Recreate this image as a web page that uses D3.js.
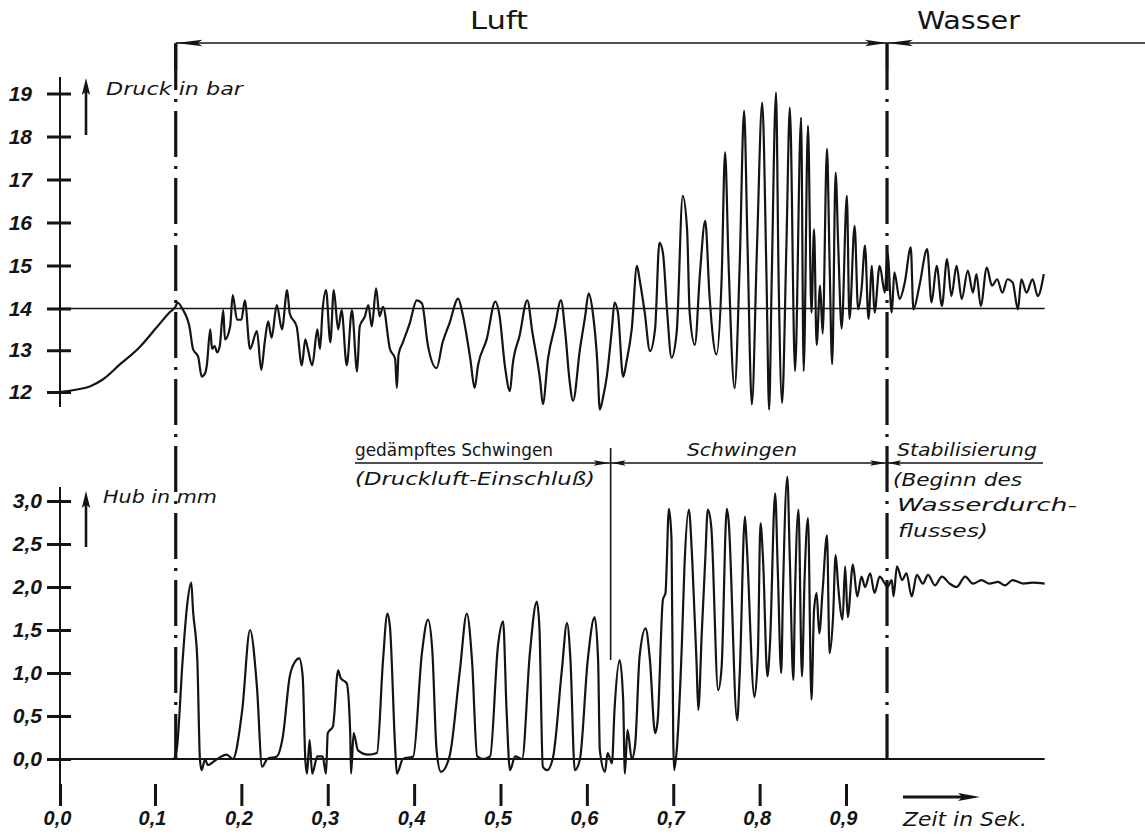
<!DOCTYPE html>
<html>
<head>
<meta charset="utf-8">
<script src="https://cdn.jsdelivr.net/npm/d3@7"></script>
<style>
  body { margin: 0; background: #fff; }
</style>
</head>
<body>
<svg id="chart" width="1145" height="835"></svg>
<script>
// Achsen
var zeitTicks = [0.0, 0.1, 0.2, 0.3, 0.4, 0.5, 0.6, 0.7, 0.8, 0.9];
var druckTicks = [12, 13, 14, 15, 16, 17, 18, 19];
var hubTicks = [0.0, 0.5, 1.0, 1.5, 2.0, 2.5, 3.0];

// Druckverlauf (Zeit in s, Druck in bar)
var druckZeit = [0.000,0.018,0.032,0.045,0.063,0.084,0.102,0.117,0.124,0.126,0.132,0.140,0.144,0.150,0.154,0.158,0.160,0.164,0.166,0.169,
  0.172,0.175,0.179,0.181,0.187,0.190,0.195,0.200,0.204,0.210,0.218,0.223,0.227,0.231,0.235,0.241,0.247,0.253,0.256,0.264,
  0.270,0.274,0.277,0.282,0.288,0.291,0.294,0.298,0.303,0.307,0.312,0.316,0.322,0.328,0.334,0.337,0.343,0.347,0.351,0.356,
  0.360,0.364,0.372,0.378,0.380,0.382,0.387,0.395,0.403,0.409,0.416,0.426,0.433,0.441,0.451,0.456,0.465,0.470,0.474,0.484,
  0.494,0.499,0.505,0.511,0.514,0.522,0.531,0.537,0.546,0.549,0.555,0.563,0.570,0.575,0.580,0.584,0.592,0.598,0.602,0.607,
  0.612,0.615,0.619,0.623,0.629,0.632,0.636,0.642,0.646,0.652,0.658,0.661,0.667,0.673,0.679,0.684,0.688,0.693,0.698,0.704,
  0.711,0.716,0.719,0.725,0.731,0.737,0.742,0.750,0.756,0.760,0.764,0.771,0.777,0.782,0.786,0.791,0.797,0.803,0.808,0.811,
  0.814,0.819,0.822,0.826,0.831,0.835,0.841,0.848,0.851,0.856,0.860,0.863,0.866,0.870,0.873,0.878,0.881,0.884,0.888,0.891,
  0.895,0.901,0.904,0.910,0.914,0.918,0.922,0.926,0.930,0.933,0.939,0.945,0.948,0.953,0.956,0.962,0.968,0.975,0.978,0.985,
  0.994,0.999,1.005,1.011,1.017,1.022,1.028,1.034,1.041,1.047,1.051,1.056,1.063,1.069,1.075,1.081,1.087,1.093,1.099,1.103,
  1.109,1.116,1.122,1.129];
var druckWert = [12.00,12.06,12.14,12.30,12.66,13.08,13.55,13.91,14.05,14.14,13.98,13.55,13.03,12.84,12.37,12.45,12.64,13.50,13.03,13.10,
  12.95,13.10,13.96,13.26,13.57,14.31,13.73,13.73,14.19,13.03,13.46,12.53,13.19,13.69,13.30,14.08,13.50,14.43,13.88,13.57,
  12.64,13.26,13.03,12.64,13.50,13.03,13.96,14.43,13.19,14.43,13.50,13.96,12.64,13.96,12.49,13.57,13.81,14.08,13.57,14.47,
  13.81,14.04,13.03,12.80,12.10,12.90,13.19,13.65,14.19,14.12,13.11,12.57,13.19,13.65,14.23,13.88,12.80,12.10,12.64,13.26,
  14.16,13.81,12.64,12.02,12.64,13.34,14.19,13.42,12.26,11.71,12.80,13.57,14.19,13.42,12.26,11.79,13.03,13.81,14.35,13.88,
  12.74,11.58,11.90,12.36,13.52,14.14,13.90,12.36,12.74,13.52,14.99,14.68,13.90,12.98,13.52,15.53,15.30,13.90,12.82,13.44,
  16.62,15.84,13.90,13.13,14.84,16.04,14.29,12.90,14.68,17.63,15.07,12.09,15.07,18.60,15.46,11.70,15.46,18.79,14.68,11.58,
  14.68,19.02,14.68,11.74,15.46,18.67,12.50,18.44,12.50,18.25,13.90,15.84,13.13,14.53,13.40,17.71,15.07,12.67,17.16,15.46,
  13.52,16.62,13.75,15.92,13.98,14.45,15.46,13.75,14.99,13.90,14.99,14.37,15.30,13.90,14.84,14.22,14.60,15.42,13.98,14.53,
  15.38,14.14,14.99,14.06,15.15,14.29,14.99,14.22,14.88,14.37,14.80,14.06,14.95,14.53,14.68,14.37,14.68,14.60,13.98,14.68,
  14.37,14.68,14.29,14.80];

// Hubverlauf (Zeit in s, Hub in mm)
var hubZeit = [0.000,0.121,0.125,0.132,0.137,0.142,0.144,0.149,0.152,0.154,0.158,0.161,0.172,0.183,0.190,0.201,0.210,0.218,0.224,0.230,
  0.241,0.248,0.256,0.262,0.267,0.271,0.274,0.276,0.279,0.282,0.288,0.294,0.298,0.300,0.306,0.312,0.315,0.322,0.326,0.327,
  0.330,0.335,0.347,0.357,0.364,0.369,0.372,0.378,0.380,0.387,0.399,0.409,0.416,0.421,0.426,0.431,0.441,0.453,0.461,0.467,
  0.473,0.480,0.488,0.497,0.503,0.507,0.511,0.517,0.525,0.534,0.542,0.545,0.549,0.554,0.561,0.571,0.577,0.581,0.586,0.592,
  0.601,0.609,0.613,0.615,0.621,0.624,0.629,0.632,0.638,0.642,0.644,0.647,0.652,0.656,0.661,0.668,0.673,0.679,0.682,0.688,
  0.691,0.695,0.698,0.700,0.701,0.704,0.710,0.713,0.718,0.722,0.727,0.729,0.733,0.737,0.740,0.744,0.752,0.756,0.762,0.764,
  0.774,0.777,0.783,0.785,0.794,0.798,0.801,0.804,0.809,0.812,0.818,0.821,0.825,0.827,0.832,0.835,0.839,0.841,0.845,0.849,
  0.852,0.856,0.860,0.863,0.866,0.869,0.873,0.878,0.881,0.885,0.888,0.891,0.896,0.899,0.902,0.908,0.913,0.918,0.922,0.928,
  0.933,0.939,0.945,0.948,0.953,0.955,0.959,0.965,0.970,0.976,0.982,0.989,0.995,1.003,1.011,1.020,1.028,1.038,1.047,1.057,
  1.066,1.076,1.084,1.093,1.105,1.116,1.130];
var hubWert = [0.00,0.00,0.10,1.15,1.77,2.05,1.73,1.15,0.00,-0.13,0.00,-0.07,0.00,0.05,0.00,0.57,1.50,0.84,-0.09,0.00,
  0.03,0.26,0.96,1.13,1.17,0.96,0.00,-0.17,0.22,-0.17,0.03,0.03,-0.17,0.30,0.38,1.03,0.94,0.88,0.30,-0.17,
  0.30,0.10,0.05,0.07,1.15,1.69,1.54,0.14,-0.17,0.00,0.03,1.23,1.62,1.27,0.10,-0.15,0.03,1.03,1.69,1.15,
  0.03,0.00,0.03,1.31,1.60,0.57,-0.13,0.03,0.00,1.23,1.83,1.54,-0.09,-0.13,0.03,1.03,1.58,1.15,-0.13,0.00,
  1.15,1.65,1.15,0.10,-0.15,0.07,-0.05,0.57,1.15,0.69,-0.17,0.34,0.00,0.18,1.19,1.52,1.15,0.30,0.45,1.85,
  1.93,2.91,2.55,0.22,-0.13,0.10,1.34,2.24,2.90,2.31,1.11,0.57,1.46,2.31,2.90,2.70,0.80,1.07,2.91,2.78,
  0.45,1.00,2.82,2.51,0.72,1.23,2.74,2.31,0.96,1.34,3.09,2.20,1.00,1.93,3.28,2.31,0.92,1.93,2.90,0.96,
  2.08,2.80,0.69,1.73,1.93,1.46,1.97,2.60,1.23,1.65,2.37,2.00,1.62,2.24,1.65,2.26,1.89,2.12,2.00,2.16,
  1.93,2.12,2.04,2.00,2.08,1.89,2.24,2.08,2.16,1.89,2.14,2.04,2.14,2.02,2.12,2.04,2.00,2.12,2.04,2.08,
  2.04,2.06,2.02,2.08,2.04,2.05,2.04];

var zeitEnde = 1.13;

var svg = d3.select("#chart");
var ink = "#141414";
var schrift = "'DejaVu Sans', sans-serif";
var zahlen = "'Liberation Sans', Arial, sans-serif";

// Skalen (Handzeichnung: erster Abschnitt 0,0-0,1 etwas breiter)
var x = d3.scaleLinear().domain([0, 0.1, 0.9]).range([60, 155, 846]);
var yDruck = d3.scaleLinear().domain([12, 14, 19]).range([392, 308.5, 93.5]);
var yHub = d3.scaleLinear().domain([0, 3]).range([759, 501]);

function komma(d) { return d.toFixed(1).replace(".", ","); }

function spitze(px, py, dx, dy, len, w) {
  // gefuellte Pfeilspitze, Spitze bei (px,py), Richtung (dx,dy)
  var bx = px - dx * len, by = py - dy * len;
  var nx = -dy * w, ny = dx * w;
  return "M" + px + "," + py + "L" + (bx + nx) + "," + (by + ny) +
    "L" + (px - dx * len * 0.8) + "," + (py - dy * len * 0.8) +
    "L" + (bx - nx) + "," + (by - ny) + "Z";
}

// Bezugslinie 14 bar und Nulllinie Hub
svg.append("line").attr("x1", x(0)).attr("x2", x(zeitEnde))
  .attr("y1", yDruck(14)).attr("y2", yDruck(14))
  .attr("stroke", ink).attr("stroke-width", 1.6);
svg.append("line").attr("x1", x(0)).attr("x2", x(zeitEnde))
  .attr("y1", yHub(0)).attr("y2", yHub(0))
  .attr("stroke", ink).attr("stroke-width", 2);

// Y-Achsen
svg.append("line").attr("x1", 60).attr("x2", 60).attr("y1", 77).attr("y2", 407)
  .attr("stroke", ink).attr("stroke-width", 2);
svg.append("line").attr("x1", 60).attr("x2", 60).attr("y1", 487).attr("y2", 806)
  .attr("stroke", ink).attr("stroke-width", 2);

var gDruck = svg.append("g").attr("transform", "translate(71,0)")
  .call(d3.axisLeft(yDruck).tickValues(druckTicks).tickSize(24).tickPadding(15).tickFormat(d3.format("d")));
var gHub = svg.append("g").attr("transform", "translate(71,0)")
  .call(d3.axisLeft(yHub).tickValues(hubTicks).tickSize(24).tickPadding(5).tickFormat(komma));
var gZeit = svg.append("g").attr("transform", "translate(0,784)")
  .call(d3.axisBottom(x).tickValues(zeitTicks).tickSize(22).tickPadding(5).tickFormat(komma));

[gDruck, gHub, gZeit].forEach(function(g) {
  g.select(".domain").remove();
  g.selectAll(".tick line").attr("stroke", ink).attr("stroke-width", 3);
  g.selectAll(".tick text")
    .attr("fill", ink)
    .attr("font-family", zahlen)
    .attr("font-style", "italic")
    .attr("font-weight", "bold")
    .attr("font-size", 21);
});
gZeit.selectAll(".tick text").attr("font-size", 20).attr("dx", "-0.15em");

// Strichpunktlinien (Luft / Wasser)
[0.124, 0.9475].forEach(function(t) {
  svg.append("line").attr("x1", x(t)).attr("x2", x(t)).attr("y1", 44).attr("y2", 760)
    .attr("stroke", ink).attr("stroke-width", 3.2)
    .attr("stroke-dasharray", "46,9,3,9");
});
// oben kurzer Vollstrich
svg.append("line").attr("x1", x(0.124)).attr("x2", x(0.124)).attr("y1", 43).attr("y2", 70)
  .attr("stroke", ink).attr("stroke-width", 3);
svg.append("line").attr("x1", x(0.9475)).attr("x2", x(0.9475)).attr("y1", 43).attr("y2", 70)
  .attr("stroke", ink).attr("stroke-width", 2.5);

// Kopfzeile Luft / Wasser
svg.append("line").attr("x1", x(0.124)).attr("x2", 1145).attr("y1", 43).attr("y2", 43)
  .attr("stroke", ink).attr("stroke-width", 1.6);
svg.append("path").attr("d", spitze(x(0.124), 43, -1, 0, 27, 3.2)).attr("fill", ink);
svg.append("path").attr("d", spitze(x(0.9475), 43, 1, 0, 22, 3.2)).attr("fill", ink);
svg.append("path").attr("d", spitze(x(0.9475), 43, -1, 0, 26, 3.2)).attr("fill", ink);

svg.append("text").text("Luft").attr("x", 470).attr("y", 29)
  .attr("font-family", "'DejaVu Sans Condensed', " + schrift).attr("font-size", 24)
  .attr("textLength", 58).attr("lengthAdjust", "spacingAndGlyphs").attr("fill", ink);
svg.append("text").text("Wasser").attr("x", 917).attr("y", 29)
  .attr("font-family", "'DejaVu Sans Condensed', " + schrift).attr("font-size", 24)
  .attr("textLength", 103).attr("lengthAdjust", "spacingAndGlyphs").attr("fill", ink);

// Mittlere Beschriftung
svg.append("line").attr("x1", 355).attr("x2", 1043).attr("y1", 463).attr("y2", 463)
  .attr("stroke", ink).attr("stroke-width", 1.6);
svg.append("line").attr("x1", x(0.6275)).attr("x2", x(0.6275)).attr("y1", 448).attr("y2", 660)
  .attr("stroke", ink).attr("stroke-width", 1.6);
svg.append("path").attr("d", spitze(x(0.6275) - 1, 463, 1, 0, 16, 2.8)).attr("fill", ink);
svg.append("path").attr("d", spitze(x(0.6275) + 1, 463, -1, 0, 14, 2.8)).attr("fill", ink);
svg.append("path").attr("d", spitze(x(0.9475) - 1, 463, 1, 0, 16, 2.8)).attr("fill", ink);
svg.append("path").attr("d", spitze(x(0.9475) + 1, 463, -1, 0, 13, 2.8)).attr("fill", ink);

var texte = [
  { t: "gedämpftes Schwingen", x: 355, y: 456, w: 198, s: 17, i: false },
  { t: "(Druckluft-Einschluß)", x: 355, y: 485, w: 240, s: 18, i: true },
  { t: "Schwingen", x: 687, y: 456, w: 110, s: 18, i: true },
  { t: "Stabilisierung", x: 897, y: 456, w: 140, s: 18, i: true },
  { t: "(Beginn des", x: 893, y: 486, w: 129, s: 18, i: true },
  { t: "Wasserdurch-", x: 897, y: 511, w: 180, s: 18, i: true },
  { t: "flusses)", x: 898, y: 537, w: 90, s: 18, i: true },
  { t: "Druck in bar", x: 106, y: 95, w: 137, s: 18, i: true },
  { t: "Hub in mm", x: 103, y: 503, w: 114, s: 18, i: true },
  { t: "Zeit in Sek.", x: 903, y: 826, w: 124, s: 19, i: true }
];
texte.forEach(function(d) {
  svg.append("text").text(d.t).attr("x", d.x).attr("y", d.y)
    .attr("font-family", schrift).attr("font-size", d.s)
    .attr("font-style", d.i ? "italic" : "normal")
    .attr("textLength", d.w).attr("lengthAdjust", "spacingAndGlyphs")
    .attr("fill", ink);
});

// Pfeile an den Achsbeschriftungen
[[135, 78], [547, 491]].forEach(function(p) {
  svg.append("line").attr("x1", 86).attr("x2", 86).attr("y1", p[0]).attr("y2", p[1] + 12)
    .attr("stroke", ink).attr("stroke-width", 2.6);
  svg.append("path").attr("d", spitze(86, p[1], 0, -1, 17, 4.2)).attr("fill", ink);
});
// Zeitpfeil
svg.append("line").attr("x1", 903).attr("x2", 965).attr("y1", 797).attr("y2", 797)
  .attr("stroke", ink).attr("stroke-width", 3);
svg.append("path").attr("d", spitze(980, 797, 1, 0, 22, 4)).attr("fill", ink);

// Messkurven
var druckDaten = druckZeit.map(function(t, i) { return [t, druckWert[i]]; });
var hubDaten = hubZeit.map(function(t, i) { return [t, hubWert[i]]; });

var linieDruck = d3.line()
  .x(function(d) { return x(d[0]); })
  .y(function(d) { return yDruck(d[1]); })
  .curve(d3.curveMonotoneX);
var linieHub = d3.line()
  .x(function(d) { return x(d[0]); })
  .y(function(d) { return yHub(d[1]); })
  .curve(d3.curveMonotoneX);

svg.append("path").datum(druckDaten).attr("d", linieDruck)
  .attr("fill", "none").attr("stroke", ink).attr("stroke-width", 2.2)
  .attr("stroke-linejoin", "round");
svg.append("path").datum(hubDaten).attr("d", linieHub)
  .attr("fill", "none").attr("stroke", ink).attr("stroke-width", 2.2)
  .attr("stroke-linejoin", "round");
</script>
</body>
</html>
